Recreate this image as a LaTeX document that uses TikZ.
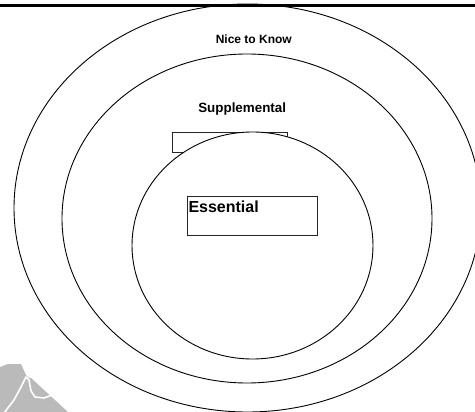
\documentclass[tikz,border=0pt]{standalone}
\usepackage{fontspec}
\setmainfont{Liberation Sans}
\usetikzlibrary{shapes.geometric}

\tikzset{
  ring/.style={ellipse, draw=black, line width=0.9pt, fill=white, inner sep=0pt},
  textbox/.style={rectangle, draw=black!85, line width=0.7pt, inner sep=0pt},
  caption/.style={font=\bfseries, inner sep=0pt},
}

\begin{document}
\begin{tikzpicture}[x=1pt, y=-1pt]
  \useasboundingbox[fill=white] (0,0) rectangle (475,412);

  % nested rings
  \begin{scope}
    \clip (0,0) rectangle (475,412);
    \node[ring, minimum width=467pt, minimum height=408pt] (outer) at (247.5,208) {};
  \end{scope}
  \node[ring, minimum width=370pt, minimum height=329pt] (middle) at (247,218.5) {};

  % empty label box partly covered by the inner ring
  \node[textbox, minimum width=115pt, minimum height=20pt] (suppbox) at (229.5,142) {};

  \node[ring, minimum width=241pt, minimum height=227pt] (inner) at (252.5,245.5) {};

  % box of the core level
  \node[textbox, fill=white, minimum width=130pt, minimum height=39pt] (essbox) at (252,215.5) {};

  % level captions
  \node[caption, font=\fontsize{12}{14}\selectfont\bfseries, anchor=base] (nice) at (253.8,43.3) {Nice to Know};
  \node[caption, font=\fontsize{13.4}{15}\selectfont\bfseries, anchor=base] (supp) at (242.2,112.3) {Supplemental};
  \node[caption, font=\fontsize{16}{18}\selectfont\bfseries, anchor=base west] (ess) at (188.3,212.3) {Essential};

  % rule along the top
  \coordinate (ruleL) at (0,5.5);
  \coordinate (ruleR) at (475,5.5);
  \draw[line width=2.4pt] (ruleL) -- (ruleR);

  % grey mark in the lower left corner
  \fill[black!27] (0,367) -- (8,364) -- (21,364) -- (26,375) -- (29,378) -- (31,378)
    -- (68,412) -- (0,412) -- cycle;
  \draw[white, line width=1.6pt, line join=round] (4,413) -- (14,400) -- (21,387) -- (26,377)
    -- (29,380) -- (31,391) -- (35,397) -- (44,398) -- (52,395);
\end{tikzpicture}
\end{document}
